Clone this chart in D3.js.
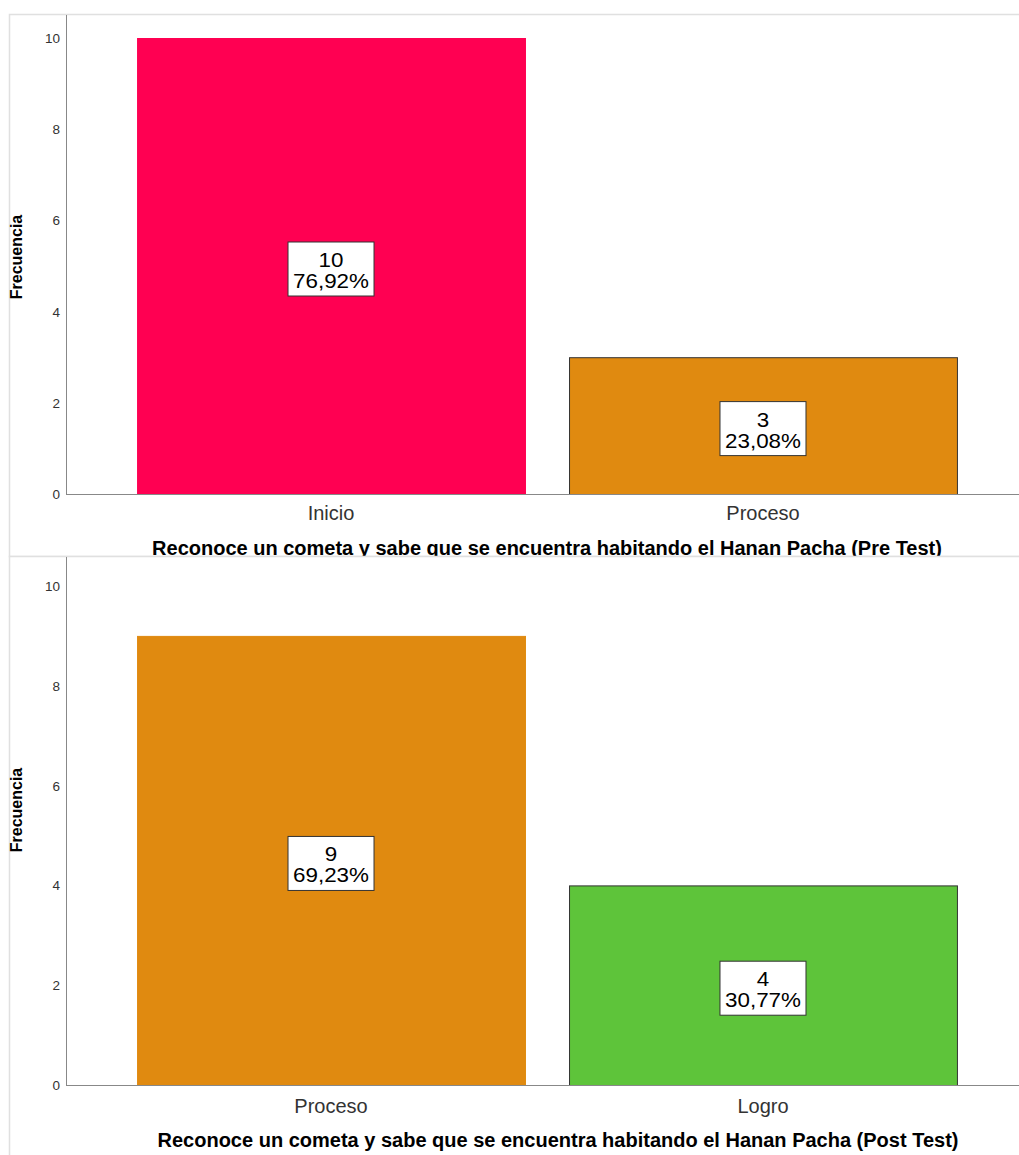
<!DOCTYPE html>
<html><head><meta charset="utf-8">
<script src="https://cdn.jsdelivr.net/npm/d3@7"></script>
<style>body{margin:0;background:#fff}svg{display:block;font-family:"Liberation Sans",Arial,sans-serif}</style>
</head><body><svg id="c" width="1019" height="1155"></svg>
<script>
const preCategories = ["Inicio", "Proceso"];
const preValues = [10, 3];
const prePercents = ["76,92%", "23,08%"];
const preColors = ["#FF0052", "#E08A10"];
const preTitle = "Reconoce un cometa y sabe que se encuentra habitando el Hanan Pacha (Pre Test)";

const postCategories = ["Proceso", "Logro"];
const postValues = [9, 4];
const postPercents = ["69,23%", "30,77%"];
const postColors = ["#E08A10", "#5EC43A"];
const postTitle = "Reconoce un cometa y sabe que se encuentra habitando el Hanan Pacha (Post Test)";

const yTicks = [0, 2, 4, 6, 8, 10];
const yLabel = "Frecuencia";

const svg = d3.select("#c");

function panel(cfg) {
  const g = svg.append("g");
  g.append("rect").attr("x", 9.5).attr("y", cfg.frameTop + 0.5)
    .attr("width", 1030).attr("height", cfg.frameBottom - cfg.frameTop)
    .attr("fill", "#fff").attr("stroke", "#e0e0e0").attr("stroke-width", 1.5);

  const y = d3.scaleLinear().domain([0, 10]).range([cfg.base, cfg.top10]);
  const x = d3.scaleBand().domain(cfg.cats).range([93, 1001]).paddingInner(0.102).paddingOuter(0.102);

  g.append("line").attr("x1", 66.5).attr("x2", 66.5).attr("y1", cfg.frameTop + 1).attr("y2", cfg.base)
    .attr("stroke", "#888").attr("stroke-width", 1);
  g.selectAll(".yt").data(yTicks).enter().append("text")
    .attr("x", 60).attr("y", d => y(d) + 5).attr("text-anchor", "end")
    .attr("font-size", 13.5).attr("fill", "#333").text(d => d);

  g.selectAll(".bar").data(cfg.vals).enter().append("rect")
    .attr("x", (d, i) => x(cfg.cats[i]) + 0.5)
    .attr("y", d => y(d) + 0.5)
    .attr("width", x.bandwidth())
    .attr("height", d => cfg.base - y(d))
    .attr("fill", (d, i) => cfg.colors[i])
    .attr("stroke", (d, i) => i === 0 ? cfg.colors[i] : "#333")
    .attr("stroke-width", 1);

  g.append("line").attr("x1", 66).attr("x2", 1019).attr("y1", cfg.base + 0.5).attr("y2", cfg.base + 0.5)
    .attr("stroke", "#888").attr("stroke-width", 1);

  cfg.vals.forEach((v, i) => {
    const cx = x(cfg.cats[i]) + x.bandwidth() / 2;
    const cy = (y(v) + cfg.base) / 2 + 3;
    const bw = 86, bh = 54;
    g.append("rect").attr("x", cx - bw / 2).attr("y", cy - bh / 2).attr("width", bw).attr("height", bh)
      .attr("fill", "#fff").attr("stroke", "#333").attr("stroke-width", 1);
    g.append("text").attr("transform", `translate(${cx},${cy - 2}) scale(1.12,1)`).attr("text-anchor", "middle")
      .attr("font-size", 20).attr("fill", "#000").text(v);
    g.append("text").attr("transform", `translate(${cx},${cy + 19}) scale(1.12,1)`).attr("text-anchor", "middle")
      .attr("font-size", 20).attr("fill", "#000").text(cfg.pcts[i]);
  });

  g.selectAll(".xl").data(cfg.cats).enter().append("text")
    .attr("x", d => x(d) + x.bandwidth() / 2).attr("y", cfg.base + cfg.catDy)
    .attr("text-anchor", "middle").attr("font-size", 20).attr("fill", "#333").text(d => d);

  g.append("text").attr("x", cfg.titleX).attr("y", cfg.base + cfg.titleDy).attr("text-anchor", "middle")
    .attr("font-size", 20).attr("font-weight", "bold").attr("fill", "#000").text(cfg.title);

  g.append("text").attr("transform", `translate(22,${cfg.ylabY}) rotate(-90)`)
    .attr("text-anchor", "middle").attr("font-size", 16).attr("font-weight", "bold").attr("fill", "#000")
    .text(yLabel);
}

panel({cats: preCategories, vals: preValues, pcts: prePercents, colors: preColors, title: preTitle,
  frameTop: 14, frameBottom: 556, base: 494, top10: 38, ylabY: 257, catDy: 26, titleDy: 61, titleX: 547});
panel({cats: postCategories, vals: postValues, pcts: postPercents, colors: postColors, title: postTitle,
  frameTop: 556, frameBottom: 1200, base: 1085, top10: 586, ylabY: 810, catDy: 28, titleDy: 62, titleX: 558});
</script></body></html>
